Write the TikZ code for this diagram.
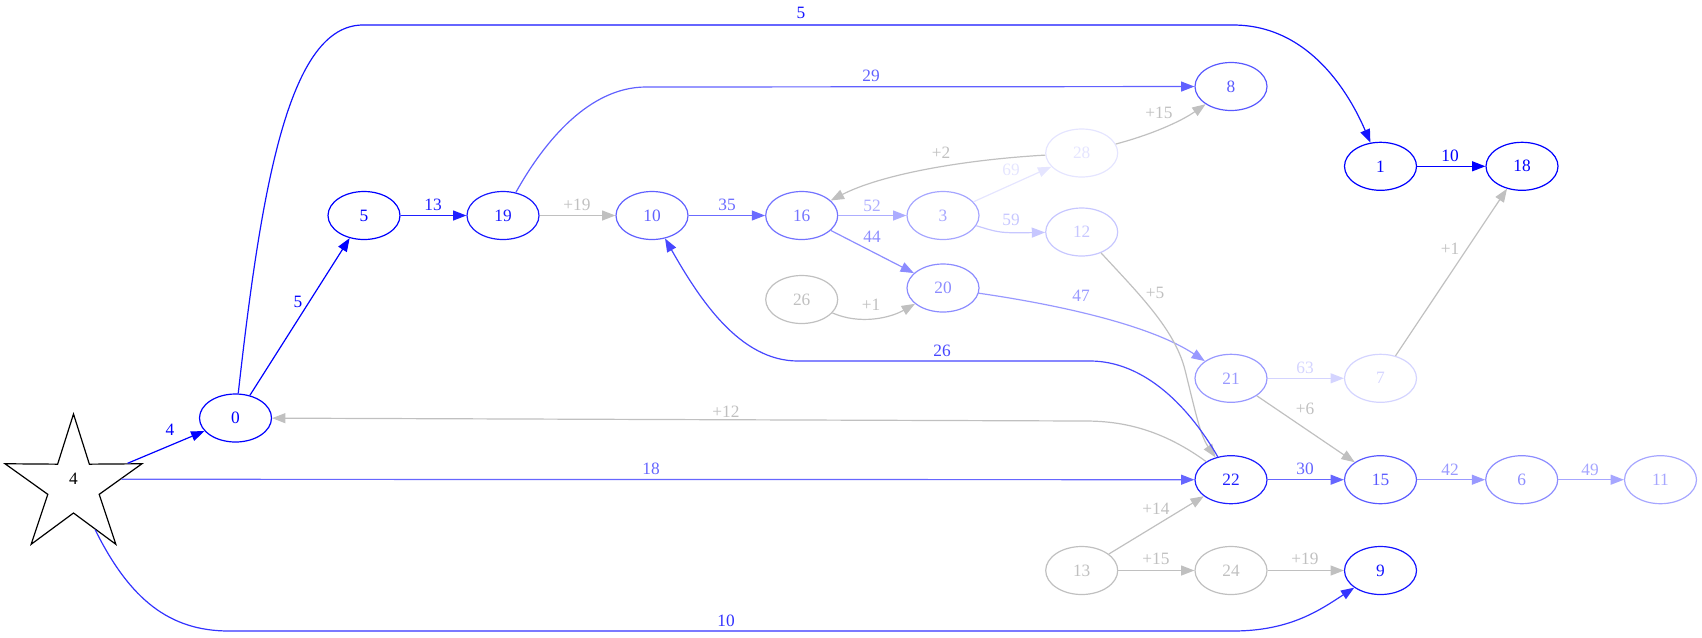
\documentclass[tikz,border=0pt]{standalone}
\usepackage{fontspec}
\setmainfont{Liberation Serif}
\usetikzlibrary{shapes.geometric,arrows.meta}
\definecolor{silver}{HTML}{C0C0C0}
\tikzset{
  vtx/.style={ellipse, draw=#1, text=#1, line width=0.9pt, minimum width=54pt, minimum height=36pt, inner sep=0pt},
  hit/.style={vtx=silver},
  cost/.style={draw=#1, line width=0.9pt, -{Triangle[length=10pt,width=7.5pt]}},
  lbl/.style={text=#1, inner sep=0pt}
}

\begin{document}
\begin{tikzpicture}[x=0.75pt, y=-0.75pt, font=\fontsize{13}{15}\selectfont]
  \useasboundingbox (0,0) rectangle (1702,637);

  \node[star, star points=5, star point ratio=2.667, draw=black, line width=0.9pt,
        minimum size=108pt, inner sep=0pt] (n4) at (73.5,486) {\raisebox{10.5pt}{4}};
  \node[vtx=blue]    (n0)  at (235.5,418)   {0};
  \node[vtx=blue]    (n5)  at (364,215.5)   {5};
  \node[vtx=blue!90] (n19) at (503,215.5)   {19};
  \node[vtx=blue!62] (n10) at (652,215.5)   {10};
  \node[vtx=blue!55] (n16) at (801.7,215.5) {16};
  \node[vtx=blue!35] (n3)  at (943,215.5)   {3};
  \node[vtx=blue!10] (n28) at (1081.7,153)  {28};
  \node[vtx=blue!22] (n12) at (1081.7,232)  {12};
  \node[vtx=blue!45] (n20) at (943,288)     {20};
  \node[hit]         (n26) at (801.7,299.5) {26};
  \node[vtx=blue!65] (n8)  at (1231,86.5)   {8};
  \node[vtx=blue]    (n1)  at (1380.5,166.3) {1};
  \node[vtx=blue]    (n18) at (1522,166.3)  {18};
  \node[vtx=blue!40] (n21) at (1231,378.3)  {21};
  \node[vtx=blue!17] (n7)  at (1380.5,378.3) {7};
  \node[vtx=blue!88] (n22) at (1231,479.7)  {22};
  \node[vtx=blue!65] (n15) at (1380.5,479.7) {15};
  \node[vtx=blue!45] (n6)  at (1521.7,479.7) {6};
  \node[vtx=blue!35] (n11) at (1660.5,479.7) {11};
  \node[hit]         (n13) at (1081.7,570.5) {13};
  \node[hit]         (n24) at (1231,570.5)  {24};
  \node[vtx=blue!92] (n9)  at (1380.5,570.5) {9};

  \draw[cost=blue] (n4) -- (n0) node[lbl=blue] at (170,430) {4};
  \draw[cost=blue] (n0) -- (n5) node[lbl=blue] at (298,302) {5};
  \draw[cost=blue!92] (n0) .. controls (262,180) and (290,25) .. (363,25) -- (1233,25)
    .. controls (1310,25) and (1350,95) .. (n1) node[lbl=blue!92] at (801,13) {5};
  \draw[cost=blue!88] (n5) -- (n19) node[lbl=blue!88] at (433,205) {13};
  \draw[cost=silver] (n19) -- (n10) node[lbl=silver] at (577,205) {+19};
  \draw[cost=blue!62] (n19) .. controls (545,140) and (590,87) .. (646,87) -- (n8)
    node[lbl=blue!62] at (871,76) {29};
  \draw[cost=blue!58] (n10) -- (n16) node[lbl=blue!58] at (727,205) {35};
  \draw[cost=blue!32] (n16) -- (n3) node[lbl=blue!32] at (872,206) {52};
  \draw[cost=blue!45] (n16) -- (n20) node[lbl=blue!45] at (872,237) {44};
  \draw[cost=blue!10] (n3) -- (n28) node[lbl=blue!10] at (1011,170) {69};
  \draw[cost=blue!22] (n3) .. controls (1000,233) .. (n12) node[lbl=blue!22] at (1011,220) {59};
  \draw[cost=silver] (n28) .. controls (960,160) and (880,175) .. (n16) node[lbl=silver] at (941,153) {+2};
  \draw[cost=silver] (n28) .. controls (1150,135) and (1180,122) .. (n8) node[lbl=silver] at (1159,113) {+15};
  \draw[cost=silver] (n26) .. controls (860,325) and (890,318) .. (n20) node[lbl=silver] at (871,305) {+1};
  \draw[cost=blue!40] (n20) .. controls (1060,305) and (1150,325) .. (n21) node[lbl=blue!40] at (1081,296) {47};
  \draw[cost=silver] (n12) .. controls (1140,295) and (1175,330) .. (1185,370)
    .. controls (1195,410) and (1200,435) .. (n22) node[lbl=silver] at (1155,293) {+5};
  \draw[cost=blue!72] (n22) .. controls (1185,400) and (1140,361) .. (1090,361) -- (798,361)
    .. controls (740,361) and (700,300) .. (n10) node[lbl=blue!72] at (942,351) {26};
  \draw[cost=silver] (n22) .. controls (1160,428) and (1120,421) .. (1085,421) -- (n0)
    node[lbl=silver] at (726,412) {+12};
  \draw[cost=blue!60] (n4.8) -- (n22) node[lbl=blue!60] at (651,469) {18};
  \draw[cost=blue!80] (n4) .. controls (130,600) and (170,631) .. (229,631) -- (1233,631)
    .. controls (1290,631) and (1320,610) .. (n9) node[lbl=blue!80] at (726,621) {10};
  \draw[cost=blue] (n1) -- (n18) node[lbl=blue] at (1450,156) {10};
  \draw[cost=blue!17] (n21) -- (n7) node[lbl=blue!17] at (1305,368) {63};
  \draw[cost=silver] (n21) -- (n15) node[lbl=silver] at (1305,409) {+6};
  \draw[cost=silver] (n7) -- (n18) node[lbl=silver] at (1450,249) {+1};
  \draw[cost=blue!60] (n22) -- (n15) node[lbl=blue!60] at (1305,469) {30};
  \draw[cost=blue!40] (n15) -- (n6) node[lbl=blue!40] at (1450,470) {42};
  \draw[cost=blue!35] (n6) -- (n11) node[lbl=blue!35] at (1590,470) {49};
  \draw[cost=silver] (n13) -- (n22) node[lbl=silver] at (1156,509) {+14};
  \draw[cost=silver] (n13) -- (n24) node[lbl=silver] at (1156,559) {+15};
  \draw[cost=silver] (n24) -- (n9) node[lbl=silver] at (1305,559) {+19};
\end{tikzpicture}
\end{document}
